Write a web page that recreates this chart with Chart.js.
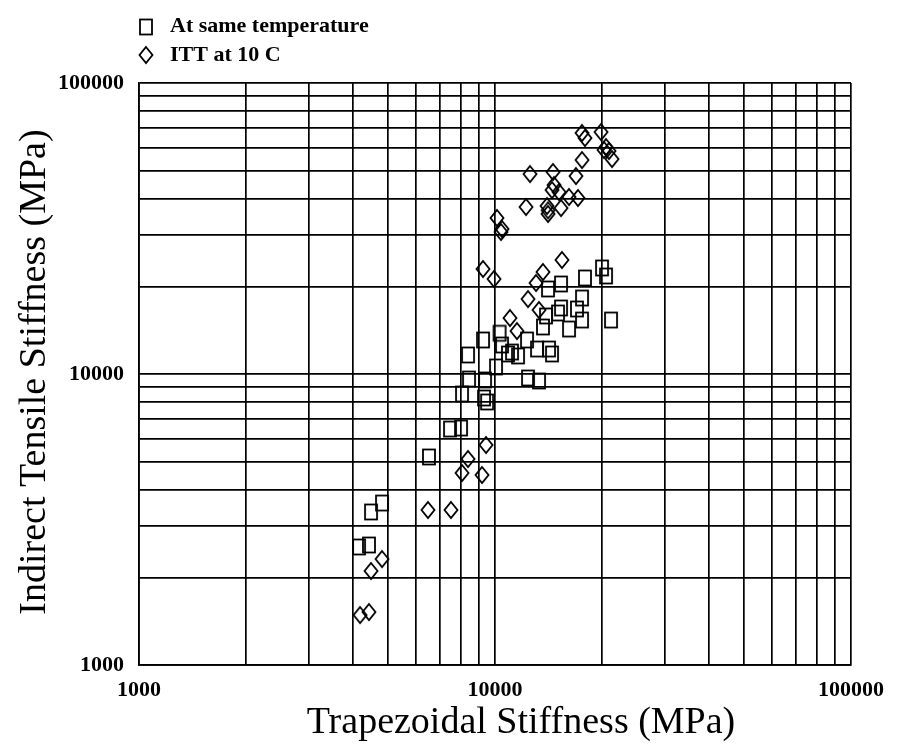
<!DOCTYPE html>
<html>
<head>
<meta charset="utf-8">
<script src="https://cdn.jsdelivr.net/npm/chart.js@4"></script>
<style>
  html, body { margin: 0; padding: 0; background: #fff; }
  canvas { display: block; }
</style>
</head>
<body>
<canvas id="stiffnessChart" width="899" height="751"></canvas>
<script>
// === DATA ===
const gridValues = [1000, 2000, 3000, 4000, 5000, 6000, 7000, 8000, 9000,
    10000, 20000, 30000, 40000, 50000, 60000, 70000, 80000, 90000, 100000];
const decadeLabels = [1000, 10000, 100000];

const sameTempX = [4150, 4426, 4485, 4815, 6525, 7475, 8027, 8080, 8453, 9374, 9314, 9500,
    8400, 9254, 10065, 10464, 10300, 10877, 11604, 11163, 12302, 12381, 13293, 13122, 14184,
    14460, 13640, 16140, 17555, 21180, 13910, 15031, 15325, 16994, 17555, 14093, 15325,
    17898, 19983, 20505];
const sameTempY = [2544, 2585, 3357, 3603, 5186, 6471, 6522, 8537, 9612, 9537, 8271, 8013,
    11623, 13090, 10570, 12580, 13800, 11715, 11532, 11900, 13090, 9690, 9462, 12186, 12186,
    11715, 14505, 14277, 15330, 15330, 15825, 16205, 16860, 16727, 18245, 19598, 20388,
    21380, 23140, 21721];

const ittX = [4178, 4426, 4485, 4815, 6482, 7523, 8080, 9194, 8400, 9435, 9254, 9936,
    10396, 10130, 10464, 15424, 13640, 13040, 12381, 13293, 11018, 11529, 17555, 17898,
    19855, 20505, 20905, 21320, 20243, 17555, 12542, 14555, 16885, 14650, 14460, 15129,
    16140, 17104, 12222, 14000, 14093, 15325, 14100];
const ittY = [1485, 1521, 2104, 2313, 3410, 3410, 4569, 4498, 5104, 5702, 22957, 21212,
    30760, 34370, 31500, 24649, 22418, 20551, 18098, 16596, 15575, 14052, 67330, 64710,
    67860, 60260, 58400, 54800, 58870, 54370, 48670, 49450, 47900, 44610, 42880, 42210,
    40580, 40260, 37490, 37790, 35470, 37190, 36500];

const toPoints = (xs, ys) => xs.map((x, i) => ({ x: x, y: ys[i] }));

// === MARKERS ===
function makeMarker(kind) {
    const c = document.createElement('canvas');
    c.width = 18;
    c.height = 20;
    const g = c.getContext('2d');
    g.strokeStyle = '#000';
    g.lineWidth = 1.8;
    if (kind === 'square') {
        g.strokeRect(3, 2.5, 12, 15);
    } else {
        g.beginPath();
        g.moveTo(9, 2);
        g.lineTo(15.5, 10);
        g.lineTo(9, 18);
        g.lineTo(2.5, 10);
        g.closePath();
        g.stroke();
    }
    return c;
}
const squareMarker = makeMarker('square');
const diamondMarker = makeMarker('diamond');

const serif = "'Liberation Serif', 'Times New Roman', serif";
const tickFont = { family: serif, size: 22, weight: 'bold' };

// legend + axis titles drawn on top
const decorations = {
    id: 'decorations',
    afterDraw(chart) {
        const ctx = chart.ctx;
        ctx.save();
        ctx.fillStyle = '#000';
        ctx.drawImage(squareMarker, 146 - 9, 27 - 10);
        ctx.drawImage(diamondMarker, 146 - 9, 55 - 10);
        ctx.font = 'bold 22px ' + serif;
        ctx.textAlign = 'left';
        ctx.textBaseline = 'alphabetic';
        ctx.fillText('At same temperature', 170, 32);
        ctx.fillText('ITT at 10 C', 170, 61);

        ctx.font = '38px ' + serif;
        ctx.textAlign = 'center';
        ctx.fillText('Trapezoidal Stiffness (MPa)', 521, 733);

        ctx.translate(45, 372);
        ctx.rotate(-Math.PI / 2);
        ctx.fillText('Indirect Tensile Stiffness (MPa)', 0, 0);
        ctx.restore();
    }
};

function logAxis(fit, pad) {
    return {
        type: 'logarithmic',
        min: 1000,
        max: 100000,
        afterBuildTicks: scale => {
            scale.ticks = gridValues.map(v => ({ value: v }));
        },
        afterFit: fit,
        ticks: {
            autoSkip: false,
            maxRotation: 0,
            color: '#000',
            font: tickFont,
            padding: pad,
            callback: v => decadeLabels.includes(v) ? String(v) : ''
        },
        grid: { color: '#000', lineWidth: 1.7, drawTicks: false },
        border: { color: '#000', width: 1.7 }
    };
}

new Chart(document.getElementById('stiffnessChart'), {
    type: 'scatter',
    data: {
        datasets: [
            {
                label: 'At same temperature',
                data: toPoints(sameTempX, sameTempY),
                pointStyle: squareMarker,
                pointRadius: 7
            },
            {
                label: 'ITT at 10 C',
                data: toPoints(ittX, ittY),
                pointStyle: diamondMarker,
                pointRadius: 7
            }
        ]
    },
    options: {
        responsive: false,
        animation: false,
        layout: { padding: { top: 83, right: 48, left: 0, bottom: 0 } },
        plugins: {
            legend: { display: false },
            tooltip: { enabled: false }
        },
        scales: {
            x: logAxis(scale => { scale.height = 86; }, 12),
            y: logAxis(scale => { scale.width = 139; }, 15)
        }
    },
    plugins: [decorations]
});
</script>
</body>
</html>
